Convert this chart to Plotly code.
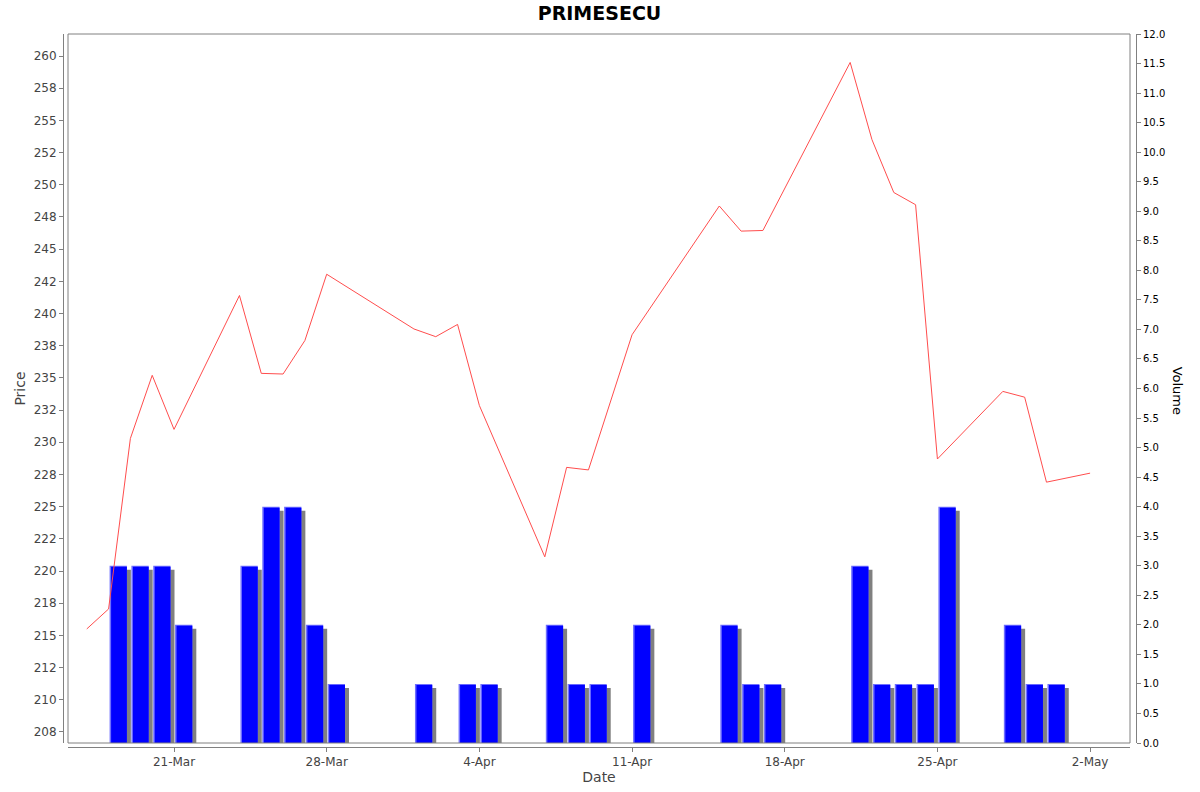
"""PRIMESECU: preço (linha) e volume (barras) com Plotly."""

import plotly.graph_objects as go

# dados (pregões de 2025)
datas = [
    "2025-03-17", "2025-03-18", "2025-03-19", "2025-03-20", "2025-03-21",
    "2025-03-24", "2025-03-25", "2025-03-26", "2025-03-27", "2025-03-28",
    "2025-04-01", "2025-04-02", "2025-04-03", "2025-04-04",
    "2025-04-07", "2025-04-08", "2025-04-09", "2025-04-11",
    "2025-04-15", "2025-04-16", "2025-04-17",
    "2025-04-21", "2025-04-22", "2025-04-23", "2025-04-24", "2025-04-25",
    "2025-04-28", "2025-04-29", "2025-04-30", "2025-05-02",
]
precos = [
    215.5, 217.05, 230.3, 235.2, 231.0,
    241.4, 235.35, 235.3, 237.9, 243.05,
    238.8, 238.2, 239.15, 232.85,
    221.1, 228.05, 227.85, 238.35,
    248.35, 246.4, 246.45,
    259.5, 253.5, 249.4, 248.45, 228.7,
    233.95, 233.5, 226.9, 227.6,
]
volumes = [
    0, 3, 3, 3, 2,
    3, 4, 4, 2, 1,
    1, 0, 1, 1,
    2, 1, 1, 2,
    2, 1, 1,
    3, 1, 1, 1, 4,
    2, 1, 1, 0,
]

price_ticks = [207.5 + 2.5 * i for i in range(22)]
price_labels = [
    "208", "210", "212", "215", "218", "220", "222", "225", "228", "230", "232",
    "235", "238", "240", "242", "245", "248", "250", "252", "255", "258", "260",
]
x_ticks = ["2025-03-21", "2025-03-28", "2025-04-04", "2025-04-11",
           "2025-04-18", "2025-04-25", "2025-05-02"]
x_labels = ["21-Mar", "28-Mar", "4-Apr", "11-Apr", "18-Apr", "25-Apr", "2-May"]

DAY = 86400000
GRAY = "#808080"
TXT = "#444444"
FONT = "DejaVu Sans"

bar_x = [d for d, v in zip(datas, volumes) if v > 0]
bar_y = [v for v in volumes if v > 0]


def barra(cor, offset, largura, base=0.0):
    # uma camada do desenho das barras (sombra, borda, corpo)
    return go.Bar(
        x=bar_x, y=bar_y, base=base, yaxis="y",
        offset=offset * DAY, width=largura * DAY,
        marker=dict(color=cor, line=dict(width=0)),
        hoverinfo="skip", showlegend=False,
    )


fig = go.Figure()
fig.add_trace(barra("#808080", 0.229, 0.793, base=-0.068))   # sombra
fig.add_trace(barra("#6f6fff", 0.046, 0.793))                # borda clara
fig.add_trace(barra("#0000ff", 0.115, 0.724, base=-0.017))   # corpo

# linha de preço
fig.add_trace(go.Scatter(
    x=datas, y=precos, yaxis="y2", mode="lines", name="Price",
    line=dict(color="#ff4d4d", width=1),
    showlegend=False,
))

fig.update_layout(
    width=1200, height=792,
    paper_bgcolor="white", plot_bgcolor="white",
    margin=dict(l=63, r=64, t=34, b=45, autoexpand=False),
    barmode="overlay",
    font=dict(family=FONT, color=TXT),
    title=dict(text="<b>PRIMESECU</b>", x=0.5, xanchor="center",
               xref="paper", yref="container", y=1 - 13 / 792,
               yanchor="middle", font=dict(size=19, color="black", family=FONT)),
    xaxis=dict(
        type="date", domain=[5 / 1073, 1 - 6 / 1073],
        range=["2025-03-16 03:20", "2025-05-03 19:55"],
        anchor="free", position=0, automargin=False,
        showline=True, linecolor=GRAY, linewidth=1,
        ticks="outside", ticklen=4, tickcolor=GRAY,
        tickvals=x_ticks, ticktext=x_labels,
        tickfont=dict(size=12, color=TXT),
        showgrid=False, zeroline=False,
        title=dict(text="Date", font=dict(size=14, color=TXT), standoff=2),
    ),
    yaxis=dict(
        domain=[4 / 713, 1], range=[0, 12],
        side="right", anchor="free", position=1, automargin=False,
        showline=True, linecolor=GRAY, linewidth=1,
        ticks="outside", ticklen=4, tickcolor=GRAY,
        dtick=0.5, tickformat=".1f",
        tickfont=dict(size=10, color="black"),
        showgrid=False, zeroline=False,
    ),
    yaxis2=dict(
        overlaying="y", side="left", anchor="free", position=0, automargin=False,
        range=[206.64, 261.71],
        showline=True, linecolor=GRAY, linewidth=1,
        ticks="outside", ticklen=4, tickcolor=GRAY,
        tickvals=price_ticks, ticktext=price_labels,
        tickfont=dict(size=12, color=TXT),
        showgrid=False, zeroline=False,
        title=dict(text="Price", font=dict(size=14, color=TXT), standoff=3),
    ),
    shapes=[dict(type="rect", xref="x domain", yref="y domain",
                 x0=0, x1=1, y0=0, y1=1,
                 line=dict(color=GRAY, width=1), layer="above")],
    annotations=[dict(text="Volume", textangle=90, showarrow=False,
                      xref="paper", yref="paper", x=1.039, y=0.5,
                      xanchor="center", yanchor="middle",
                      font=dict(size=13, color="black", family="Liberation Sans Narrow, " + FONT))],
)

# sem a margem padrão do <body>, o gráfico fica alinhado ao canto da janela
fig.write_html("out.html", config={"displayModeBar": False},
               post_script="document.body.style.margin = '0';")
